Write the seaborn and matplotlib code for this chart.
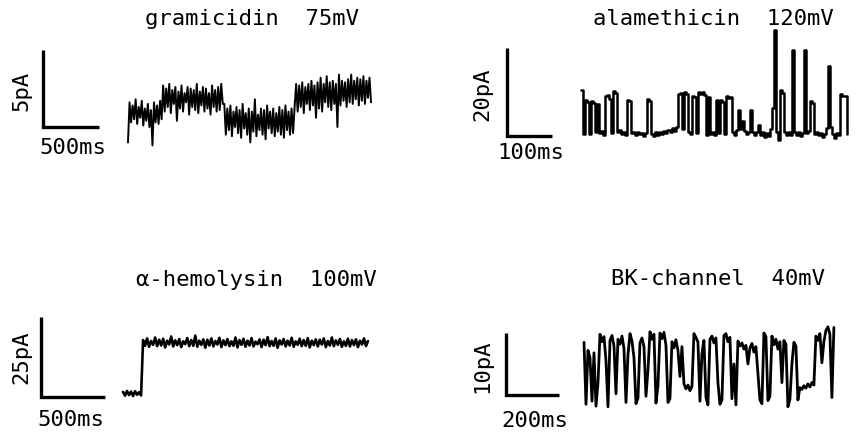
import numpy as np
import matplotlib
matplotlib.use("Agg")
import matplotlib.pyplot as plt
import seaborn as sns
from matplotlib import font_manager

# ---- data (current in pA) ----
titles = ["gramicidin  75mV", "alamethicin  120mV", "\u03b1-hemolysin  100mV", "BK-channel  40mV"]
bar_time_ms = [500, 100, 500, 200]
bar_current_pa = [5, 20, 25, 10]
duration_ms = [2170, 590, 1914, 943]

gramicidin = [
    -1.0, 1.6, 0.3, 1.4, 0.5, 1.8, 0.2, 1.3, 0.6, 1.7, 0.1, 1.2, 0.4, 1.5, 0.0, 1.1,
    -1.2, 1.6, 0.3, 1.4, 0.2, 1.7, 0.5,
    2.7, 1.0, 2.5, 1.3, 2.8, 0.9, 2.4, 1.5, 2.6, 0.4, 2.3, 1.2, 2.7, 1.0, 2.2, 1.6,
    2.6, 0.8, 2.5, 1.3, 2.4, 1.1, 2.8, 0.9, 2.3, 1.4, 2.6, 1.0, 2.5, 1.2, 2.2, 0.8,
    2.7, 1.3, 2.4, 1.0, 2.6, 1.1, 2.8, 1.5,
    1.5, -0.5, 1.2, -0.2, 1.4, -0.6, 1.0, 0.0, 1.3, -0.4, 1.1, -0.7, 1.5, -0.1, 0.9,
    -0.5, 1.2, -1.0, 1.0, -0.3, 1.8, -0.6, 0.8, -0.2, 1.2, -0.5, 1.1, -0.8, 1.4, -0.1,
    1.0, -0.4, 1.2, -0.6, 0.9, -0.3, 1.3, -0.5, 1.1, -0.7, 1.4, -0.2, 1.0, -0.5, 1.2,
    -0.4, 1.3,
    2.8, 1.0, 2.7, 1.3, 2.9, 0.9, 2.6, 1.5, 2.8, 1.1, 3.0, 1.4, 2.7, 0.6, 2.9, 1.2,
    3.2, 1.0, 2.8, 1.6, 3.3, 1.3, 2.9, 1.1, 3.0, 1.5, 2.8, 0.0, 3.4, 1.4, 3.0, 1.7,
    2.9, 1.3, 3.1, 1.6, 3.4, 1.5, 3.0, 1.8, 3.2, 1.4, 3.1, 1.7, 3.3, 1.5, 3.0, 1.9,
    3.2, 1.6,
]

alamethicin = [
    10.5, 0.5, 8.2, 7.8, 0.4, 8.0, 7.6, 0.9, 7.3, 0.6, 1.2, 0.3, 9.0, 9.3, 8.5, 0.7,
    10.2, 9.8, 0.8, 1.4, 0.4, 0.9, 0.2, 8.2, 8.0, 0.6, 0.9, 0.2, 1.0, 0.4, 0.7, 0.1,
    0.6, 8.3, 8.0, 0.5, 0.1, 0.8, 0.3, 0.9, 0.5, 1.1, 0.6, 1.4, 0.9, 1.8, 1.2, 2.0,
    9.6, 9.8, 1.5, 10.0, 9.5, 1.0, 0.4, 9.2, 8.8, 0.6, 9.9, 9.6, 10.0, 9.4, 0.2, 8.8,
    0.5, 1.0, 0.3, 8.2, 0.6, 8.2, 7.8, 0.4, 9.0, 8.6, 8.8, 1.0, 0.3, 1.4, 5.9, 1.6,
    3.5, 1.2, 0.5, 1.0, 5.9, 0.8, 0.3, 0.9, 2.6, 0.2, 0.8, -0.3, 0.6, 0.1, 1.5, 6.4,
    24.0, 1.0, -0.8, 10.5, 9.8, 0.8, 0.2, 0.9, 0.3, 19.5, 0.9, 0.2, 0.8, 0.1, 0.7,
    19.5, 0.6, 1.2, 8.0, 7.5, 0.5, 0.9, 0.2, 0.7, -0.2, 0.5, 1.8, 16.0, 2.0, 0.4,
    -0.5, 0.6, 0.2, 9.6, 9.2, 9.0, 0.4,
]

hemolysin = [
    1.6, 0.4, 1.9, 0.6, 1.7, 0.3, 1.8, 0.7, 1.5, 0.5,
    17.8, 16.0, 18.3, 15.7, 17.5, 16.3, 18.6, 15.9, 17.9, 16.1,
    18.2, 15.5, 17.6, 16.4, 18.9, 15.8, 17.7, 16.2, 18.1, 15.6,
    17.4, 16.5, 18.4, 15.9, 17.8, 16.0, 19.2, 15.7, 17.6, 16.3,
    18.0, 15.4, 17.9, 16.1, 18.3, 15.8, 17.5, 16.4, 18.5, 15.6,
    17.7, 16.2, 18.1, 15.9, 17.4, 16.0, 18.6, 15.5, 17.8, 16.3,
    18.2, 15.7, 17.6, 16.1, 18.4, 15.8, 17.3, 16.5, 18.0, 15.6,
    17.9, 16.2, 18.7, 15.9, 17.5, 16.0, 18.3, 15.4, 17.7, 16.4,
    18.1, 15.8, 17.6, 16.1, 18.5, 15.7, 17.4, 16.3, 18.2, 15.9,
    17.8, 16.0, 18.4, 15.5, 17.6, 16.2, 18.0, 15.8, 17.9, 16.4,
    18.3, 15.6, 17.5, 16.1, 18.6, 15.9, 17.7, 16.3, 18.1, 15.7,
    17.4, 16.0, 18.2, 15.8, 17.8, 16.2, 18.0, 15.6, 17.6, 16.4,
    18.3, 15.9, 17.5,
]

bk_channel = [
    8.5, -1.5, 7.2, 6.0, -1.0, 6.8, -1.8, 2.0, 9.8, 8.6, 9.4, 5.5, -1.9, 8.8, 9.6, 7.9,
    0.2, 9.0, 8.2, 9.5, 7.5, -1.2, 6.5, 9.9, 8.7, 6.0, -1.4, -0.5, 8.4, 9.2, 7.8, -0.2,
    4.0, 10.2, 9.0, 9.8, -1.3, 1.5, 10.0, 9.1, 10.1, 8.0, -1.2, -0.6, 8.6, 7.6, 8.9, 7.2,
    3.0, 7.8, 1.8, 1.0, 1.6, 0.7, 1.4, 9.9, 9.3, 8.5, -1.0, 6.8, 8.8, -0.4, -1.6, 9.0,
    9.5, 8.4, 9.2, 2.0, -1.5, -0.8, 9.6, 9.9, 8.6, 9.3, -0.6, 5.0, -1.6, 8.7, 7.9, 8.4,
    7.4, 8.0, 5.0, 7.6, 8.3, 6.9, 7.8, 3.5, -0.8, -1.4, 10.0, 9.4, -0.9, -0.2, 9.5, 8.1,
    9.0, 7.4, 8.6, 2.0, 8.8, 8.2, -1.9, -0.7, 5.0, 8.5, 7.9, -0.8, 1.2, 0.9, 1.5, 1.1,
    1.8, 1.3, 2.0, 1.6, 9.5, 8.8, 9.9, 5.2, 8.6, 10.4, 11.0, 9.8, -0.4, 10.9,
]

traces = [gramicidin, alamethicin, hemolysin, bk_channel]

# ---- style ----
sns.set_style("white")
names = {f.name for f in font_manager.fontManager.ttflist}
if "Noto Sans Mono CJK JP" in names:
    plt.rcParams["font.family"] = ["Noto Sans Mono CJK JP", "DejaVu Sans Mono"]
    fsize = 19
else:
    plt.rcParams["font.family"] = ["DejaVu Sans Mono"]
    fsize = 16
plt.rcParams["text.color"] = "black"

W, H = 861, 443
fig = plt.figure(figsize=(W / 100, H / 100), dpi=100)
fig.patch.set_facecolor("white")

# per panel: scale-bar corner (px), px per ms, px per pA, trace start (px), axes box (px)
layout = [
    dict(x0=43, y0=127, pxms=0.112, pxpa=15.4, start=128, box=(30, 380, 40, 160), lw=1.4, step=False),
    dict(x0=507, y0=136, pxms=0.45, pxpa=4.4, start=581, box=(495, 855, 20, 150), lw=1.8, step=True),
    dict(x0=41, y0=397, pxms=0.128, pxpa=3.2, start=123, box=(30, 380, 300, 410), lw=1.9, step=False),
    dict(x0=506, y0=395, pxms=0.265, pxpa=6.2, start=584, box=(495, 850, 310, 420), lw=2.0, step=False),
]

for i, lay in enumerate(layout):
    left, right, top, bottom = lay["box"]
    ax = fig.add_axes([left / W, 1 - bottom / H, (right - left) / W, (bottom - top) / H])
    ax.set_xlim((left - lay["x0"]) / lay["pxms"], (right - lay["x0"]) / lay["pxms"])
    ax.set_ylim((lay["y0"] - bottom) / lay["pxpa"], (lay["y0"] - top) / lay["pxpa"])
    ax.axis("off")

    offset = (lay["start"] - lay["x0"]) / lay["pxms"]
    t = offset + np.linspace(0, duration_ms[i], len(traces[i]))
    kw = dict(drawstyle="steps-post") if lay["step"] else {}
    sns.lineplot(x=t, y=traces[i], ax=ax, color="black", lw=lay["lw"],
                 estimator=None, sort=False, **kw)

    # scale bar
    ax.plot([0, 0, bar_time_ms[i]], [bar_current_pa[i], 0, 0], color="black",
            lw=2.4, solid_capstyle="butt", solid_joinstyle="miter")

# ---- text ----
def txt(x, y, s, **kw):
    fig.text(x / W, 1 - y / H, s, ha="center", va="center", fontsize=fsize, **kw)

txt(252, 19, titles[0])
txt(713, 19, titles[1])
txt(256, 280, titles[2])
txt(718, 279, titles[3])

txt(21, 91, "5pA", rotation=90)
txt(73, 148, "500ms")
txt(482, 94, "20pA", rotation=90)
txt(531, 153, "100ms")
txt(21, 357, "25pA", rotation=90)
txt(71, 420, "500ms")
txt(482, 366, "10pA", rotation=90)
txt(535, 421, "200ms")

fig.savefig("out.png", dpi=100, facecolor="white")
